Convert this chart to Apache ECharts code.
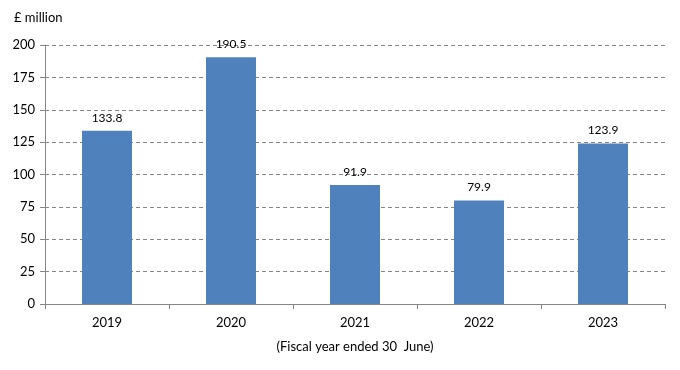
<!DOCTYPE html>
<html><head><meta charset="utf-8">
<script src="https://cdn.jsdelivr.net/npm/echarts@6/dist/echarts.min.js"></script>
<style>html,body{margin:0;padding:0;background:#fff}#c{width:680px;height:370px}</style>
</head><body><div id="c"></div>
<script>
var categories = ['2019','2020','2021','2022','2023'];
var values = [133.8, 190.5, 91.9, 79.9, 123.9];
var yTicks = [0,25,50,75,100,125,150,175,200];
var font = 'Lato, "Open Sans", sans-serif';
var chart = echarts.init(document.getElementById('c'));
chart.setOption({
  animation:false,
  textStyle:{fontFamily:font},
  grid:{left:45,right:15,top:45,bottom:66},
  graphic:[{type:'text',left:14,top:11,style:{text:'£ million',font:'13px '+font,fill:'#000'}}],
  xAxis:{type:'category',data:categories,
    name:'(Fiscal year ended 30  June)',nameLocation:'middle',nameGap:36,
    nameTextStyle:{color:'#000',fontSize:13,fontFamily:font},
    axisLine:{lineStyle:{color:'#868686'}},
    axisTick:{show:true,length:5,lineStyle:{color:'#868686'}},
    axisLabel:{color:'#000',fontSize:13,margin:12}},
  yAxis:{type:'value',min:yTicks[0],max:yTicks[yTicks.length-1],interval:25,
    axisLine:{show:true,lineStyle:{color:'#868686'}},
    axisTick:{show:true,length:5,lineStyle:{color:'#868686'}},
    axisLabel:{color:'#000',fontSize:13,margin:10},
    splitLine:{lineStyle:{color:'#868686',type:[4,3]}}},
  series:[{type:'bar',data:values,barWidth:50,
    itemStyle:{color:'#4F81BD'},
    label:{show:true,position:'top',distance:7,color:'#000',fontSize:12,fontFamily:font,
      formatter:function(p){return p.value.toFixed(1);}}}]
});
</script></body></html>
